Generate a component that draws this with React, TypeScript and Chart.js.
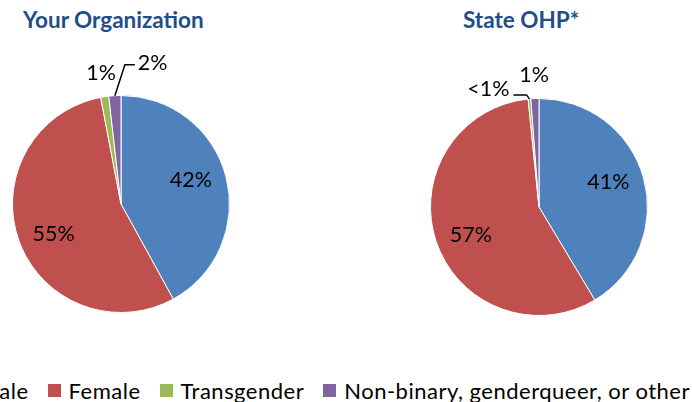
import React, { useEffect, useRef } from "react";
import { Chart, registerables } from "chart.js";

Chart.register(...registerables);

// ---- data ----
const categories = ["Male", "Female", "Transgender", "Non-binary, genderqueer, or other"];
const sliceColors = ["#4F81BD", "#C0504D", "#9BBB59", "#8064A2"];
const orgTitle = "Your Organization";
const orgValues = [42, 55, 1.2, 1.8];
const orgLabels = ["42%", "55%", "1%", "2%"];
const stateTitle = "State OHP*";
const stateValues = [41.4, 57, 0.4, 1.2];
const stateLabels = ["41%", "57%", "<1%", "1%"];

// ---- label placement (styles) ----
type Place =
  | { mode: "inside" }
  | { mode: "outside" }
  | { mode: "callout"; elbow: [number, number]; run: number; align: "left" | "right"; textDy: number };

const orgPlaces: Place[] = [
  { mode: "inside" },
  { mode: "inside" },
  { mode: "outside" },
  { mode: "callout", elbow: [10, -31], run: 10, align: "left", textDy: -2 },
];
const statePlaces: Place[] = [
  { mode: "inside" },
  { mode: "inside" },
  { mode: "callout", elbow: [-3, -4], run: -13, align: "right", textDy: -6 },
  { mode: "outside" },
];

const FONT = "Lato, 'Open Sans', sans-serif";

const labelPlugin = {
  id: "sliceLabels",
  afterDatasetsDraw(chart: any, _args: any, opts: any) {
    const { ctx } = chart;
    const meta = chart.getDatasetMeta(0);
    const labels: string[] = opts.labels || [];
    const places: Place[] = opts.places || [];
    ctx.save();
    ctx.font = `21.5px ${FONT}`;
    ctx.fillStyle = "#000";
    ctx.strokeStyle = "#000";
    ctx.lineWidth = 1.5;
    meta.data.forEach((arc: any, i: number) => {
      const { x, y, startAngle, endAngle, outerRadius } = arc.getProps(
        ["x", "y", "startAngle", "endAngle", "outerRadius"],
        true
      );
      const mid = (startAngle + endAngle) / 2;
      const p = places[i];
      const text = labels[i];
      if (!p || !text) return;
      if (p.mode === "inside") {
        const a = mid - 0.075;
        const r = outerRadius * 0.68;
        ctx.textAlign = "center";
        ctx.textBaseline = "middle";
        ctx.fillText(text, x + r * Math.cos(a), y + r * Math.sin(a));
      } else if (p.mode === "outside") {
        const r = outerRadius * 1.22;
        ctx.textAlign = "center";
        ctx.textBaseline = "middle";
        ctx.fillText(text, x + r * Math.cos(mid), y + r * Math.sin(mid));
      } else {
        const ex = x + outerRadius * Math.cos(mid);
        const ey = y + outerRadius * Math.sin(mid);
        const bx = ex + p.elbow[0];
        const by = ey + p.elbow[1];
        const fx = bx + p.run;
        ctx.beginPath();
        ctx.moveTo(ex, ey);
        ctx.lineTo(bx, by);
        ctx.lineTo(fx, by);
        ctx.stroke();
        ctx.textAlign = p.align;
        ctx.textBaseline = "middle";
        ctx.fillText(text, p.align === "left" ? fx + 3 : fx - 4, by + p.textDy);
      }
    });
    ctx.restore();
  },
};

function PieChart(props: {
  values: number[];
  labels: string[];
  places: Place[];
  left: number;
  top: number;
  width: number;
  height: number;
  padding: { left: number; right: number; top: number; bottom: number };
}) {
  const ref = useRef<HTMLCanvasElement | null>(null);
  useEffect(() => {
    if (!ref.current) return;
    const chart = new Chart(ref.current, {
      type: "pie",
      data: {
        labels: categories,
        datasets: [
          {
            data: props.values,
            backgroundColor: sliceColors,
            borderColor: "#ffffff",
            borderWidth: 1,
          },
        ],
      },
      options: {
        animation: false,
        responsive: false,
        devicePixelRatio: 1,
        layout: { padding: props.padding },
        plugins: {
          legend: { display: false },
          title: { display: false },
          tooltip: { enabled: false },
          sliceLabels: { labels: props.labels, places: props.places },
        } as any,
      },
      plugins: [labelPlugin],
    });
    return () => chart.destroy();
  }, []);
  return (
    <canvas
      ref={ref}
      width={props.width}
      height={props.height}
      style={{ position: "absolute", left: props.left, top: props.top, width: props.width, height: props.height }}
    />
  );
}

const titleStyle: React.CSSProperties = {
  position: "absolute",
  fontFamily: FONT,
  fontWeight: 700,
  fontSize: 22.5,
  color: "#1F4E8A",
  lineHeight: "26px",
  whiteSpace: "nowrap",
};

export default function App() {
  return (
    <div
      style={{
        position: "fixed",
        left: 0,
        top: 0,
        width: 692,
        height: 402,
        overflow: "hidden",
        background: "#fff",
      }}
    >
      <div style={{ ...titleStyle, left: 23, top: 7 }}>{orgTitle}</div>
      <div style={{ ...titleStyle, left: 463, top: 7 }}>{stateTitle}</div>
      <PieChart
        values={orgValues}
        labels={orgLabels}
        places={orgPlaces}
        left={0}
        top={40}
        width={250}
        height={300}
        padding={{ left: 12, right: 20, top: 55, bottom: 27 }}
      />
      <PieChart
        values={stateValues}
        labels={stateLabels}
        places={statePlaces}
        left={400}
        top={40}
        width={292}
        height={300}
        padding={{ left: 30, right: 44, top: 58, bottom: 24 }}
      />
      <div
        style={{
          position: "absolute",
          right: 2,
          top: 377,
          height: 26,
          display: "flex",
          alignItems: "center",
          whiteSpace: "nowrap",
          fontFamily: FONT,
          fontSize: 22,
          color: "#000",
        }}
      >
        {categories.map((c, i) => (
          <div
            key={c}
            style={{ display: "flex", alignItems: "center", marginRight: i === categories.length - 1 ? 0 : 19 }}
          >
            <span
              style={{ display: "inline-block", width: 13, height: 13, background: sliceColors[i], marginRight: 8 }}
            />
            <span style={{ letterSpacing: 0.5 }}>{c}</span>
          </div>
        ))}
      </div>
    </div>
  );
}
